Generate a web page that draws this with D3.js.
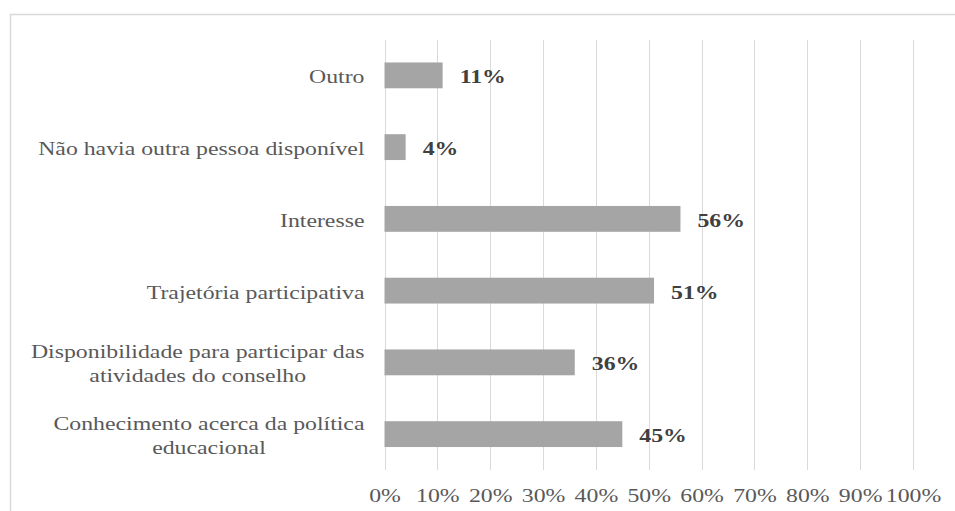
<!DOCTYPE html>
<html>
<head>
<meta charset="utf-8">
<script src="https://cdn.jsdelivr.net/npm/d3@7"></script>
<style>
  html, body { margin: 0; padding: 0; background: #ffffff; }
  svg { display: block; }
</style>
</head>
<body>
<svg id="chart" width="955" height="511"></svg>
<script>
// Motivos para participar do conselho (respostas, %)
const categories = [
  "Outro",
  "Não havia outra pessoa disponível",
  "Interesse",
  "Trajetória participativa",
  "Disponibilidade para participar das\natividades do conselho",
  "Conhecimento acerca da política\neducacional"
];
const values = [11, 4, 56, 51, 36, 45];
const tickValues = [0, 10, 20, 30, 40, 50, 60, 70, 80, 90, 100];
const tickLabels = tickValues.map(v => v + "%");

const svg = d3.select("#chart");
const W = 955, H = 511;
const plot = { left: 384.5, right: 913, top: 39.5, bottom: 470 };
const FONT = "'Liberation Serif', 'Times New Roman', serif";
const STRETCH = 1.22;   // wide setting of the serif text
const FS = 19.5;

// frame around the chart
svg.append("rect")
  .attr("x", 10.5).attr("y", 14.5)
  .attr("width", W + 20).attr("height", H + 20)
  .attr("fill", "none")
  .attr("stroke", "#d9d9d9")
  .attr("stroke-width", 1.5);

const x = d3.scaleLinear().domain([0, 100]).range([plot.left, plot.right]);
const y = d3.scaleBand()
  .domain(categories)
  .range([plot.top, plot.bottom])
  .paddingInner(0.64)
  .paddingOuter(0.32);

// vertical gridlines + percentage tick labels
const axis = d3.axisBottom(x)
  .tickValues(tickValues)
  .tickFormat((d, i) => tickLabels[i])
  .tickSize(-(plot.bottom - plot.top))
  .tickPadding(0);

const gx = svg.append("g")
  .attr("transform", `translate(0,${plot.bottom})`)
  .call(axis);
gx.select(".domain").remove();
gx.selectAll(".tick line")
  .attr("stroke", "#d9d9d9")
  .attr("stroke-width", 1)
  .attr("shape-rendering", "crispEdges");
gx.selectAll(".tick text")
  .attr("y", 0).attr("dy", 0)
  .attr("transform", `translate(0,32) scale(${STRETCH},1)`)
  .attr("fill", "#595959")
  .style("font-family", FONT)
  .style("font-size", FS + "px");

// bars
svg.append("g").selectAll("rect")
  .data(categories)
  .join("rect")
  .attr("x", x(0))
  .attr("y", d => y(d))
  .attr("width", (d, i) => x(values[i]) - x(0))
  .attr("height", y.bandwidth())
  .attr("fill", "#a5a5a5");

// value labels
svg.append("g").selectAll("text")
  .data(categories)
  .join("text")
  .attr("transform", (d, i) =>
    `translate(${x(values[i]) + 17},${y(d) + y.bandwidth() / 2 + 8}) scale(${STRETCH},1)`)
  .attr("text-anchor", "start")
  .attr("fill", "#404040")
  .style("font-family", FONT)
  .style("font-size", FS + "px")
  .style("font-weight", "bold")
  .text((d, i) => values[i] + "%");

// category labels (multi-line blocks, lines centred, block right-aligned)
const labelRight = plot.left - 20;
const lineH = 24;
const gl = svg.append("g");
categories.forEach(cat => {
  const lines = cat.split("\n");
  const cy = y(cat) + y.bandwidth() / 2;
  const t = gl.append("text")
    .attr("fill", "#595959")
    .style("font-family", FONT)
    .style("font-size", FS + "px")
    .attr("text-anchor", "middle");
  const spans = lines.map((ln, k) =>
    t.append("tspan")
      .attr("x", 0)
      .attr("y", (k - (lines.length - 1) / 2) * lineH + 8)
      .text(ln));
  const maxW = d3.max(spans, s => s.node().getComputedTextLength()) * STRETCH;
  t.attr("transform", `translate(${labelRight - maxW / 2},${cy}) scale(${STRETCH},1)`);
});
</script>
</body>
</html>
